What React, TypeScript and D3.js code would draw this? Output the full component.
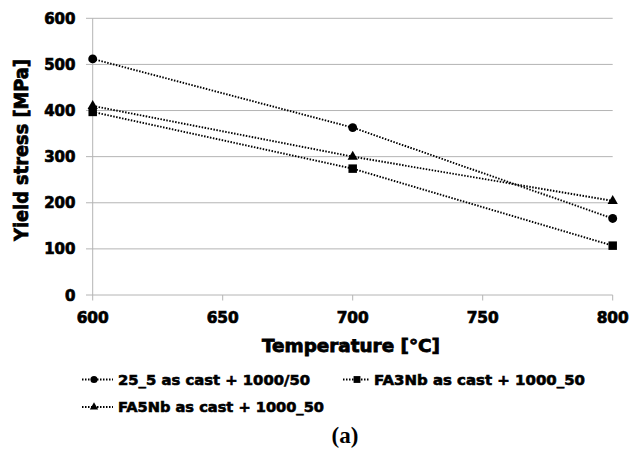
import * as d3 from "d3";

const temperatures = [600, 700, 800];
const yield25_5 = [512, 363, 166];
const yieldFA3Nb = [397, 274, 107];
const yieldFA5Nb = [410, 300, 204];
const seriesNames = [
  "25_5 as cast + 1000/50",
  "FA3Nb as cast + 1000_50",
  "FA5Nb as cast + 1000_50",
];
const seriesSymbols = [d3.symbolCircle, d3.symbolSquare, d3.symbolTriangle];
const xTickValues = [600, 650, 700, 750, 800];
const yTickValues = [0, 100, 200, 300, 400, 500, 600];

export default function App() {
  const width = 632;
  const height = 455;
  const font = "'DejaVu Sans', Verdana, sans-serif";
  // heavier strokes to mimic the thick bold of the scan
  const heavy = { fontFamily: font, fontWeight: "bold", fill: "#000", stroke: "#000", strokeWidth: 0.7 };

  const xScale = d3.scaleLinear().domain([600, 800]).range([92.7, 612.7]);
  const yScale = d3.scaleLinear().domain([0, 600]).range([295, 18.3]);

  const series = [yield25_5, yieldFA3Nb, yieldFA5Nb].map((vals, i) => ({
    name: seriesNames[i],
    symbol: seriesSymbols[i],
    points: vals.map((v, j) => ({ t: temperatures[j], v })),
  }));

  const line = d3
    .line<{ t: number; v: number }>()
    .x((d) => xScale(d.t))
    .y((d) => yScale(d.v));

  const symSize = (s: d3.SymbolType) =>
    s === d3.symbolCircle ? 62 : s === d3.symbolSquare ? 72 : 46;

  const grid = "#b4b4b4";

  // legend slots: [line start, marker x, text x, baseline, text width]
  const legendPos = [
    [82, 94, 118, 384.5, 192],
    [343, 357, 374, 384.5, 211],
    [82, 94, 118, 412, 206],
  ];

  return (
    <svg
      width={width}
      height={height}
      style={{ position: "absolute", left: 0, top: 0, background: "#fff" }}
    >
      {/* Gridlines + y ticks */}
      {yTickValues.map((t) => (
        <g key={t}>
          <line
            x1={86}
            x2={xScale(800)}
            y1={yScale(t)}
            y2={yScale(t)}
            stroke={grid}
            strokeWidth={1}
          />
          <text x={75.5} y={yScale(t) + 5.5} textAnchor="end" fontSize={15} {...heavy}>
            {t}
          </text>
        </g>
      ))}

      {/* Y axis */}
      <line
        x1={xScale(600)}
        x2={xScale(600)}
        y1={yScale(600)}
        y2={yScale(0)}
        stroke={grid}
      />

      {/* X ticks */}
      {xTickValues.map((t) => (
        <g key={t}>
          <line
            x1={xScale(t)}
            x2={xScale(t)}
            y1={yScale(0)}
            y2={yScale(0) + 5.5}
            stroke={grid}
          />
          <text x={xScale(t)} y={322.5} textAnchor="middle" fontSize={15.4} {...heavy}>
            {t}
          </text>
        </g>
      ))}

      {/* Series */}
      {series.map((s) => (
        <g key={s.name}>
          <path
            d={line(s.points) ?? ""}
            fill="none"
            stroke="#000"
            strokeWidth={1.9}
            strokeDasharray="1.5,1.5"
          />
          {s.points.map((p) => (
            <path
              key={p.t}
              transform={`translate(${xScale(p.t)}, ${yScale(p.v)})`}
              d={d3.symbol(s.symbol, symSize(s.symbol))() ?? ""}
              fill="#000"
            />
          ))}
        </g>
      ))}

      {/* Axis titles */}
      <text
        x={351}
        y={351.7}
        textAnchor="middle"
        fontSize={17.3}
        textLength={178}
        lengthAdjust="spacingAndGlyphs"
        {...heavy}
        strokeWidth={0.8}
      >
        Temperature [°C]
      </text>
      <text
        transform="translate(27.5, 150) rotate(-90)"
        textAnchor="middle"
        fontSize={20}
        textLength={182}
        lengthAdjust="spacingAndGlyphs"
        {...heavy}
        strokeWidth={0.8}
      >
        Yield stress [MPa]
      </text>

      {/* Legend */}
      {series.map((s, i) => {
        const [lx, mx, tx, by, tw] = legendPos[i];
        const cy = by - 5;
        return (
          <g key={s.name}>
            <line
              x1={lx}
              x2={tx - 5}
              y1={cy}
              y2={cy}
              stroke="#000"
              strokeWidth={1.8}
              strokeDasharray="1.5,1.5"
            />
            <path
              transform={`translate(${mx}, ${cy})`}
              d={d3.symbol(s.symbol, symSize(s.symbol) * 0.65)() ?? ""}
              fill="#000"
            />
            <text
              x={tx}
              y={by}
              fontSize={14.2}
              textLength={tw}
              lengthAdjust="spacingAndGlyphs"
              {...heavy}
              strokeWidth={0.6}
            >
              {s.name}
            </text>
          </g>
        );
      })}

      <text
        x={345}
        y={443}
        textAnchor="middle"
        fontFamily="'Liberation Serif', 'Times New Roman', serif"
        fontWeight="bold"
        fontSize={23}
        fill="#000"
      >
        (a)
      </text>
    </svg>
  );
}
